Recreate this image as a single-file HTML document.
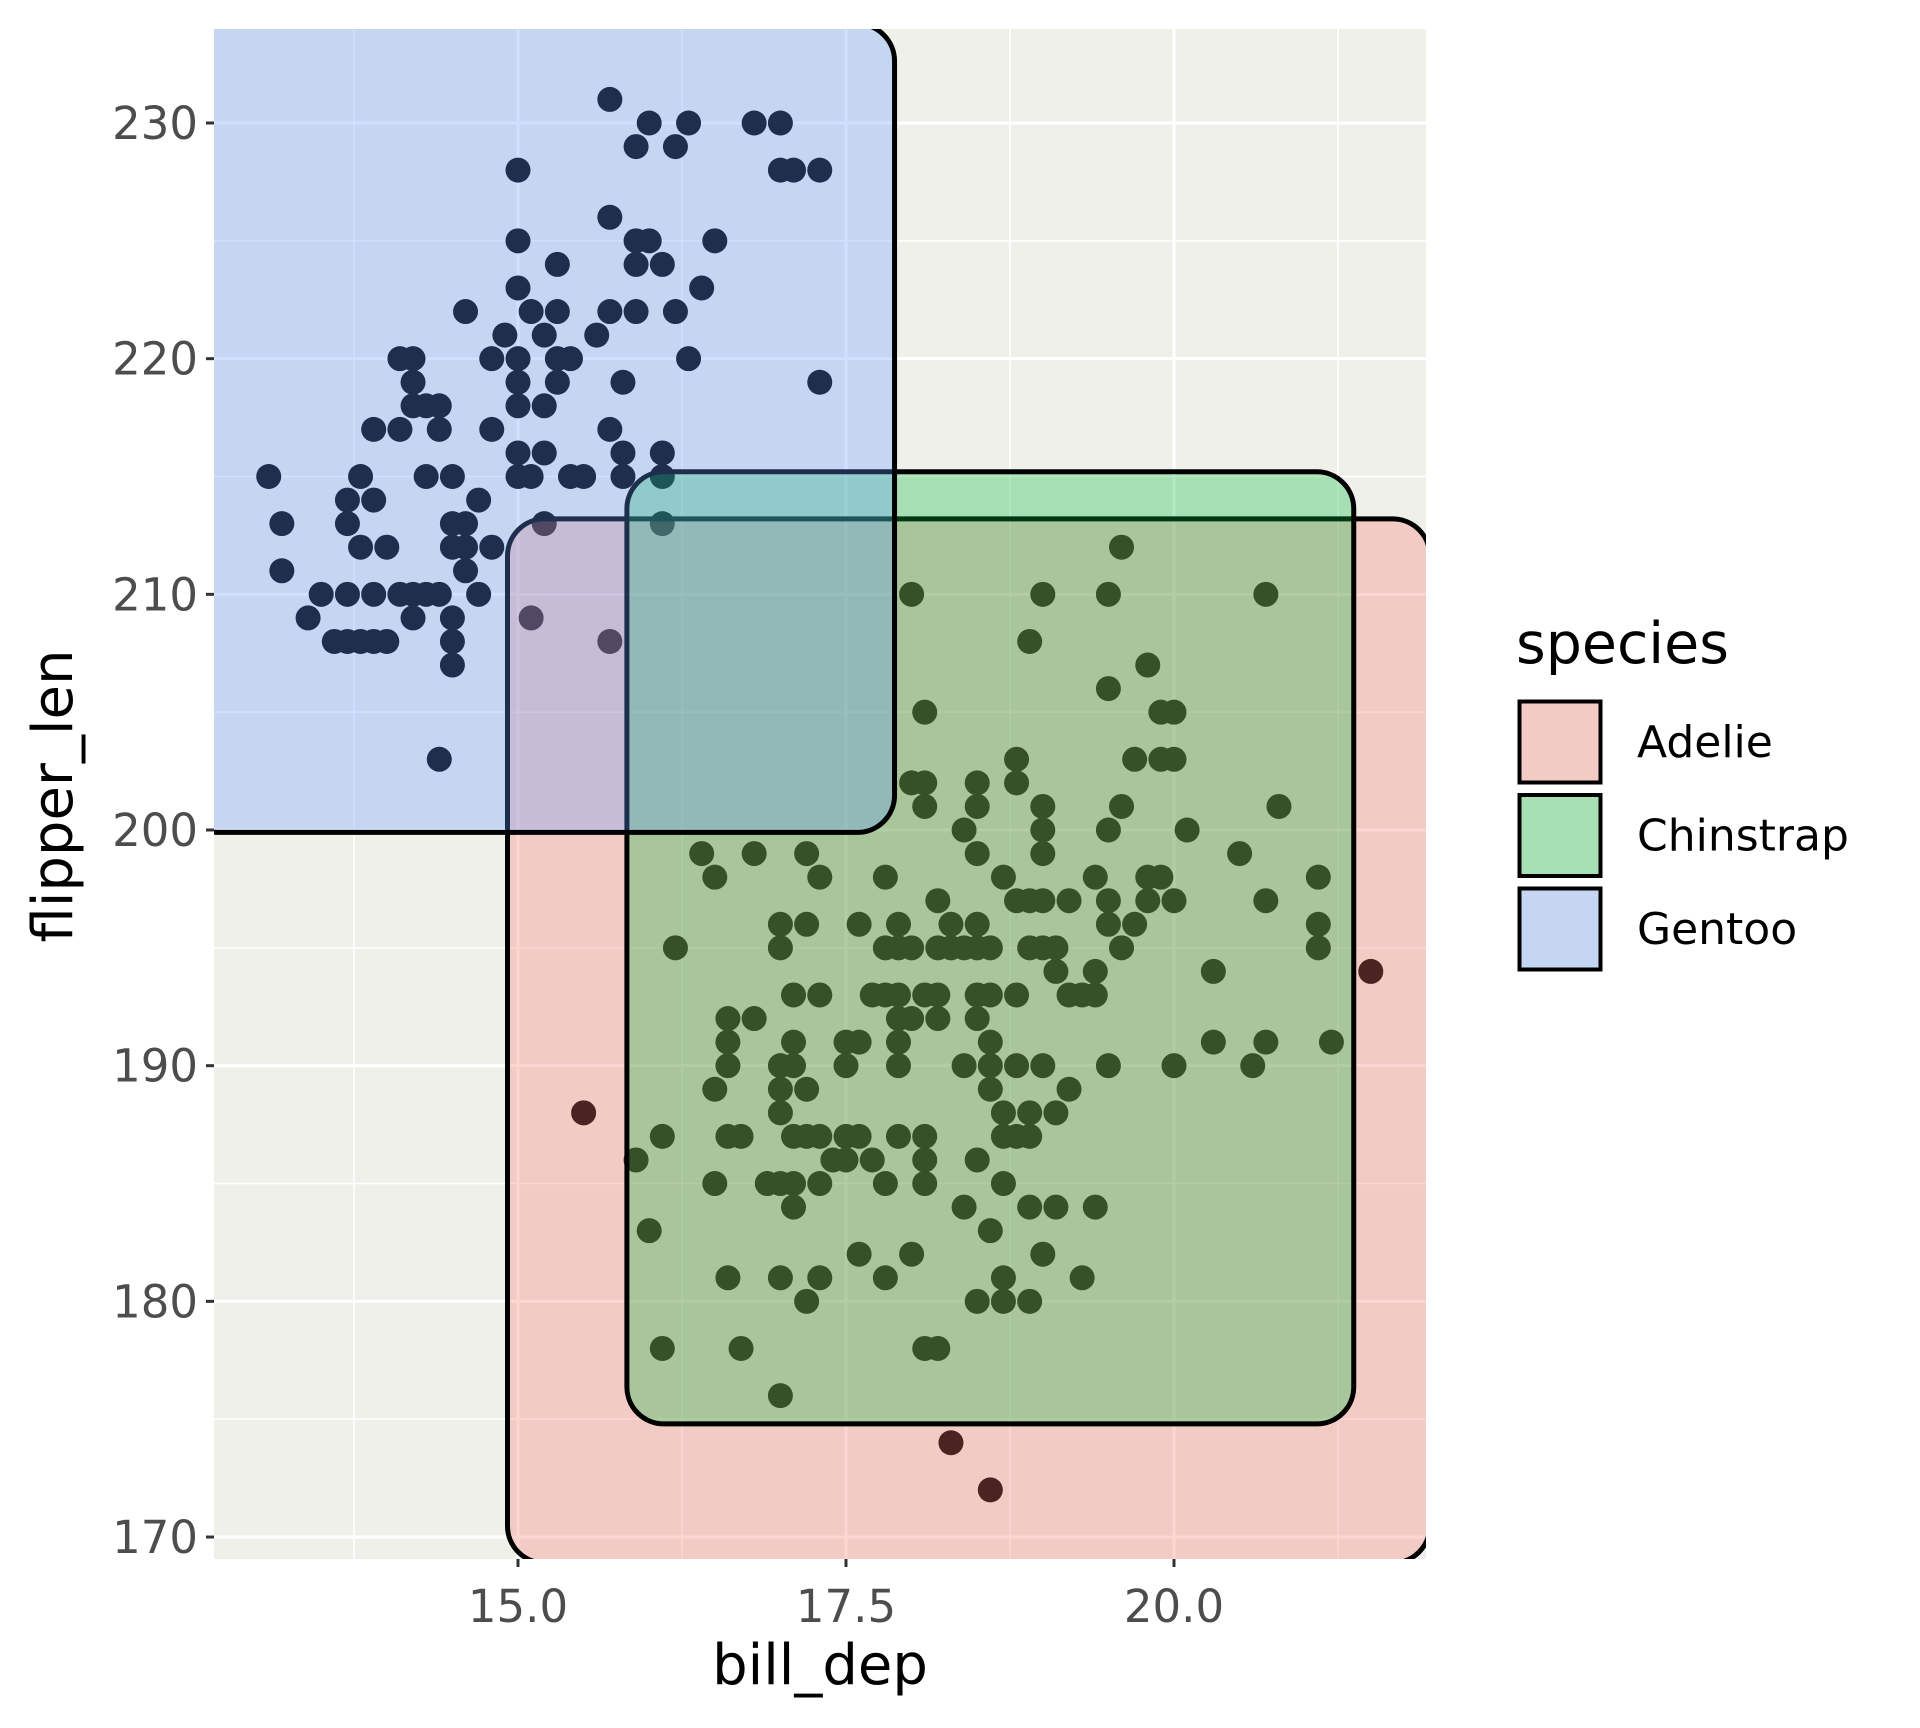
<!DOCTYPE html>
<html><head><meta charset="utf-8"><style>
body{margin:0;background:#fff;}
svg{display:block;font-family:"DejaVu Sans","Liberation Sans",sans-serif;}
</style></head><body>
<svg id="chart" width="1920" height="1728" viewBox="0 0 1920 1728">
<defs><clipPath id="pc"><rect x="214" y="29" width="1212" height="1530"/></clipPath></defs>
<rect x="214" y="29" width="1212" height="1530" fill="#F0F0EB"/>
<g id="grid" clip-path="url(#pc)"></g>
<g id="pts" clip-path="url(#pc)"></g>
<g id="rects" clip-path="url(#pc)"></g>
<g id="axes"></g>
<text x="820" y="1684" font-size="56" text-anchor="middle" fill="#000">bill_dep</text>
<text transform="translate(72,796) rotate(-90)" font-size="56" text-anchor="middle" fill="#000">flipper_len</text>
<g id="legend">
<text x="1516" y="663" font-size="57" fill="#000">species</text>
</g>
</svg>
<script>
const xTicks=[15,17.5,20];
const xTickLabels=["15.0","17.5","20.0"];
const xMinor=[13.75,16.25,18.75,21.25];
const yTicks=[170,180,190,200,210,220,230];
const yMinor=[165,175,185,195,205,215,225,235];
const species=["Adelie","Chinstrap","Gentoo"];
const fills=["#F8766D","#00BA38","#619CFF"];
const rectXmin=[14.92,15.83,12.42];
const rectXmax=[21.95,21.37,17.87];
const rectYmin=[168.9,174.8,199.9];
const rectYmax=[213.2,215.2,234.2];
const gentooX=[13.1,15.7,16.0,16.3,16.8,17.0,15.0,16.2,15.9,17.0,17.1,17.3,15.7,15.9,16.0,16.5,15.0,15.3,15.9,16.1,15.0,16.4,14.6,15.1,15.3,15.7,15.9,16.2,14.9,15.2,15.6,14.1,14.2,14.8,15.0,15.3,15.4,16.3,14.2,15.0,15.3,15.8,17.3,14.2,14.3,14.4,15.0,15.2,13.9,14.1,14.4,14.8,15.7,15.0,15.2,15.8,16.1,13.8,14.3,14.5,15.0,15.1,15.4,15.5,15.8,16.1,13.7,13.9,14.7,13.2,13.7,14.5,14.6,15.2,16.1,13.8,14.0,14.5,14.6,14.8,13.2,14.6,13.5,13.7,13.9,14.1,14.2,14.3,14.4,14.7,13.4,14.2,14.5,15.1,13.6,13.7,13.8,13.9,14.0,14.5,15.7,14.5,14.4];
const gentooY=[215,231,230,230,230,230,228,229,229,228,228,228,226,225,225,225,225,224,224,224,223,223,222,222,222,222,222,222,221,221,221,220,220,220,220,220,220,220,219,219,219,219,219,218,218,218,218,218,217,217,217,217,217,216,216,216,216,215,215,215,215,215,215,215,215,215,214,214,214,213,213,213,213,213,213,212,212,212,212,212,211,211,210,210,210,210,210,210,210,210,209,209,209,209,208,208,208,208,208,208,208,207,203];
const otherX=[19.6,18.0,19.0,19.5,20.7,18.9,19.8,19.5,18.1,19.9,20.0,18.8,19.7,19.9,20.0,18.0,18.1,18.5,18.8,18.1,18.5,19.0,19.6,20.8,18.4,19.0,19.5,20.1,16.4,16.8,17.2,18.5,19.0,20.5,16.5,17.3,17.8,18.7,19.4,19.8,19.9,21.1,18.2,18.8,18.9,19.0,19.2,19.5,19.8,20.0,20.7,17.0,17.2,17.6,17.9,18.3,18.5,19.5,19.7,21.1,16.2,17.0,17.8,17.9,18.0,18.2,18.3,18.4,18.5,18.6,18.9,19.0,19.1,19.6,21.1,19.1,19.4,20.3,21.5,17.1,17.3,17.7,17.8,17.9,18.1,18.2,18.5,18.6,18.8,19.2,19.3,19.4,16.6,16.8,17.9,18.0,18.2,18.5,16.6,17.1,17.5,17.6,17.9,18.6,20.3,20.7,21.2,16.6,17.0,17.1,17.5,17.9,18.4,18.6,18.8,19.0,19.5,20.0,20.6,16.5,17.0,17.2,18.6,19.2,15.5,17.0,18.7,18.9,19.1,16.1,16.6,16.7,17.1,17.2,17.3,17.5,17.6,17.9,18.1,18.7,18.8,18.9,15.9,17.4,17.5,17.7,18.1,18.5,16.5,16.9,17.0,17.1,17.3,17.8,18.1,18.7,17.1,18.4,18.9,19.1,19.4,16.0,18.6,17.6,18.0,19.0,16.6,17.0,17.3,17.8,18.7,19.3,17.2,18.5,18.7,18.9,16.1,16.7,18.1,18.2,17.0,18.3,18.6];
const otherY=[212,210,210,210,210,208,207,206,205,205,205,203,203,203,203,202,202,202,202,201,201,201,201,201,200,200,200,200,199,199,199,199,199,199,198,198,198,198,198,198,198,198,197,197,197,197,197,197,197,197,197,196,196,196,196,196,196,196,196,196,195,195,195,195,195,195,195,195,195,195,195,195,195,195,195,194,194,194,194,193,193,193,193,193,193,193,193,193,193,193,193,193,192,192,192,192,192,192,191,191,191,191,191,191,191,191,191,190,190,190,190,190,190,190,190,190,190,190,190,189,189,189,189,189,188,188,188,188,188,187,187,187,187,187,187,187,187,187,187,187,187,187,186,186,186,186,186,186,185,185,185,185,185,185,185,185,184,184,184,184,184,183,183,182,182,182,181,181,181,181,181,181,180,180,180,180,178,178,178,178,176,174,172];

const NS="http://www.w3.org/2000/svg";
const X0=214,X1=1426,Y0=29,Y1=1559;
function sx(v){return 518+(v-15)*131.2;}
function sy(v){return 123+(230-v)*23.567;}
function mk(tag,attrs,parent){const e=document.createElementNS(NS,tag);for(const k in attrs)e.setAttribute(k,attrs[k]);parent.appendChild(e);return e;}
const grid=document.getElementById('grid');
xMinor.forEach(v=>{const l=mk('line',{x1:sx(v),x2:sx(v),y1:Y0,y2:Y1,stroke:'#fff','stroke-width':1.5},grid);

});
yMinor.forEach(v=>{const l=mk('line',{x1:X0,x2:X1,y1:sy(v),y2:sy(v),stroke:'#fff','stroke-width':1.5},grid);

});
xTicks.forEach(v=>{const l=mk('line',{x1:sx(v),x2:sx(v),y1:Y0,y2:Y1,stroke:'#fff','stroke-width':3},grid);

});
yTicks.forEach(v=>{const l=mk('line',{x1:X0,x2:X1,y1:sy(v),y2:sy(v),stroke:'#fff','stroke-width':3},grid);

});
const pts=document.getElementById('pts');
function drawPts(xs,ys,name){xs.forEach((v,i)=>{const c=mk('circle',{cx:sx(v),cy:sy(ys[i]),r:12.5,fill:'#000'},pts);

});}
drawPts(otherX,otherY,'point-adelie-chinstrap');
drawPts(gentooX,gentooY,'point-gentoo');
const rg=document.getElementById('rects');
species.forEach((s,i)=>{const x=sx(rectXmin[i]),x2=sx(rectXmax[i]),y=sy(rectYmax[i]),y2=sy(rectYmin[i]);
const r=mk('rect',{x:x,y:y,width:x2-x,height:y2-y,rx:37,ry:37,fill:fills[i],'fill-opacity':0.3,stroke:'#000','stroke-width':5},rg);

});
const ax=document.getElementById('axes');
xTicks.forEach((v,i)=>{const t=mk('line',{x1:sx(v),x2:sx(v),y1:Y1,y2:Y1+8,stroke:'#333','stroke-width':3},ax);


const tx=mk('text',{x:sx(v),y:Y1+63,'font-size':45,'text-anchor':'middle',fill:'#4D4D4D'},ax);tx.textContent=xTickLabels[i];

});
yTicks.forEach(v=>{const t=mk('line',{x1:X0-8,x2:X0,y1:sy(v),y2:sy(v),stroke:'#333','stroke-width':3},ax);


const tx=mk('text',{x:X0-16,y:sy(v)+16,'font-size':45,'text-anchor':'end',fill:'#4D4D4D'},ax);tx.textContent=String(v);

});
const lg=document.getElementById('legend');
species.forEach((s,i)=>{const y=700+i*93.5;
mk('rect',{x:1518,y:y,width:84,height:84,fill:'#F0F0EB'},lg);
const k=mk('rect',{x:1519.5,y:y+1.5,width:81,height:81,fill:fills[i],'fill-opacity':0.3,stroke:'#000','stroke-width':4},lg);


const t=mk('text',{x:1637,y:y+57,'font-size':44,fill:'#000'},lg);t.textContent=s;

});
</script>
</body></html>
